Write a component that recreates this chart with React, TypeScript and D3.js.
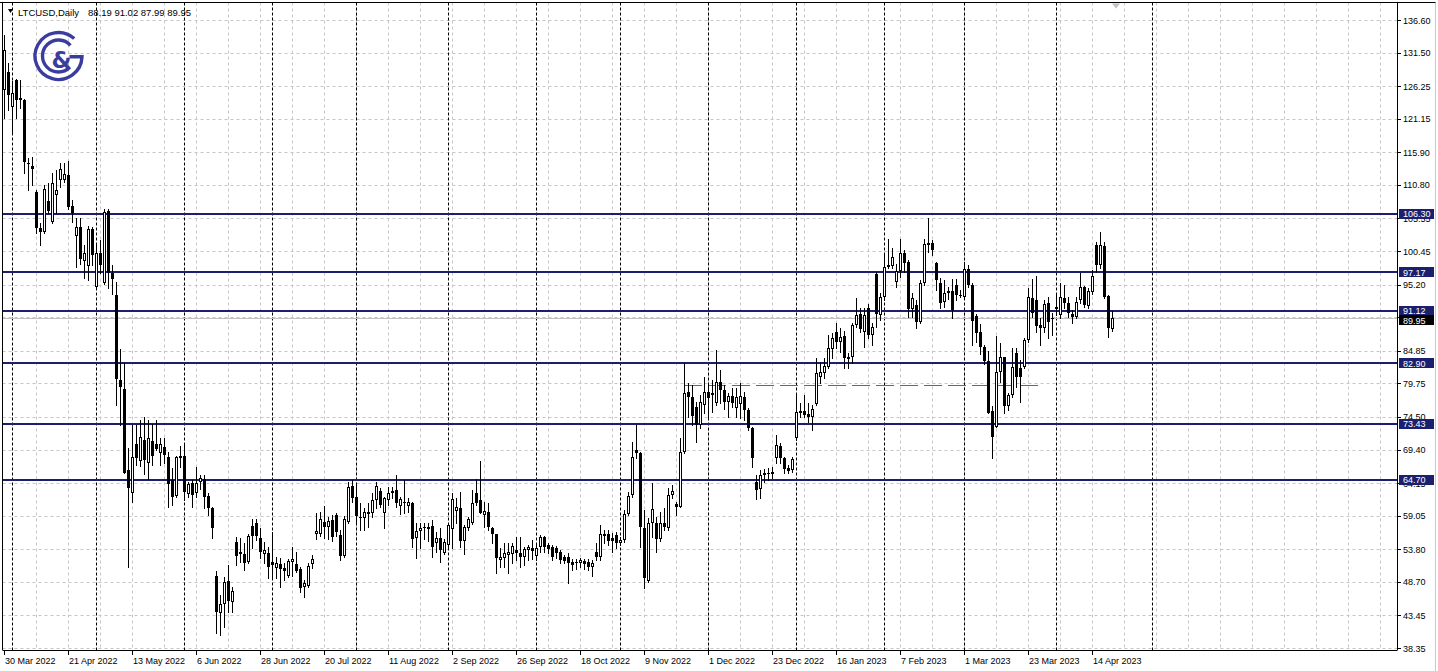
import React from "react";
import * as d3 from "d3";

const W = 1438;
const H = 671;

// OHLC per daily bar (weekday bars, 30 Mar 2022 .. 21 Apr 2023)
const opens = [
125.65,128.52,122.94,127.21,124.1,124.08,114.2,113.76,109.74,104.0,103.5,108.3,105.05,109.2,111.57,111.57,112.35,107.5,102.86,104.16,
98.95,98.17,103.85,94.78,100.1,95.4,106.7,97.07,93.58,80.28,78.82,66.2,62.65,70.27,67.66,70.9,67.24,70.73,70.27,68.8,
69.85,68.18,64.63,62.18,68.02,68.4,62.44,64.1,62.55,64.37,64.79,62.13,60.2,49.67,43.88,45.23,48.88,45.6,54.93,53.0,
53.06,51.86,57.43,57.85,55.5,53.06,53.16,51.8,50.82,51.5,50.92,49.67,51.75,51.44,50.66,47.84,48.05,51.49,56.13,56.18,
58.12,57.33,58.37,59.16,56.03,52.79,58.12,63.7,62.03,58.9,58.64,59.3,59.52,61.5,62.96,59.42,61.5,62.65,63.07,60.62,
61.24,60.62,60.98,55.61,56.7,57.33,56.91,57.43,54.72,55.5,53.26,54.46,56.91,59.84,60.2,55.14,57.07,57.95,62.55,61.5,
59.16,59.68,57.07,56.18,52.12,52.38,52.9,53.06,53.68,53.16,52.64,53.68,53.94,52.74,54.2,55.66,54.46,54.09,53.94,53.42,
52.64,52.64,51.86,51.86,51.6,52.0,51.86,51.07,53.42,52.53,56.18,56.18,55.5,56.03,54.72,55.25,59.31,62.29,69.33,68.9,
57.07,48.88,57.95,57.95,55.35,57.95,57.07,62.29,60.88,60.46,69.07,78.45,77.67,76.11,73.24,76.4,78.45,77.93,76.63,80.02,
78.71,76.89,77.77,75.85,76.5,77.56,75.58,72.72,64.37,63.18,65.41,65.5,65.57,68.02,69.95,68.02,66.46,66.2,71.15,75.06,
75.48,74.96,74.54,76.52,80.8,81.42,82.36,85.07,87.84,86.28,87.16,83.51,83.82,88.88,90.6,87.84,91.49,87.32,96.86,90.45,
93.21,97.91,98.11,95.66,97.39,100.2,98.79,91.34,92.01,89.41,95.4,101.66,101.66,98.64,95.5,92.53,93.84,94.26,95.14,93.5,
93.32,97.59,95.14,90.29,87.84,85.49,83.3,75.48,72.98,81.58,83.82,76.21,77.93,84.45,82.1,82.26,86.54,93.05,92.8,88.88,
88.36,92.27,89.93,91.75,90.45,93.05,92.38,90.6,90.19,92.8,94.78,91.86,94.1,101.4,98.27,101.24,93.42,88.19
];
const highs = [
134.25,129.8,127.0,127.3,127.2,124.3,114.96,115.2,110.0,104.8,110.8,111.15,112.7,113.1,114.2,114.2,114.5,108.5,105.57,105.57,
101.4,104.4,104.27,101.4,102.2,106.98,107.1,98.27,95.6,85.08,82.9,69.6,73.24,73.24,74.02,74.44,74.02,73.39,74.02,71.15,
71.15,69.07,66.46,68.4,69.95,70.47,64.37,64.6,66.7,65.4,65.41,62.55,60.46,50.45,46.64,49.5,51.33,47.95,55.66,55.5,
54.72,56.2,58.6,58.6,57.07,54.98,54.2,56.5,52.6,52.38,51.6,52.22,54.2,53.42,51.07,48.99,51.6,52.9,59.52,59.68,
60.56,58.9,59.16,59.42,56.81,59.0,64.37,64.63,64.11,61.08,60.2,60.98,62.55,64.37,63.33,62.03,63.59,63.59,65.41,62.03,
64.63,61.76,61.24,57.85,57.85,57.85,57.85,58.37,56.55,57.07,55.35,57.85,62.65,61.86,62.8,57.59,58.9,63.07,64.73,67.6,
61.24,60.98,57.33,56.2,53.94,54.72,54.72,54.72,55.77,55.77,54.2,54.46,55.25,54.72,56.03,55.87,54.72,54.46,54.3,53.68,
52.9,53.26,52.22,52.22,52.38,52.22,52.22,52.12,54.72,57.59,56.81,56.81,56.29,56.55,55.77,59.94,62.8,70.63,73.24,69.07,
59.94,58.64,64.11,58.9,59.68,60.2,63.33,63.85,61.24,71.15,82.99,79.75,79.49,76.89,77.93,80.8,79.75,80.28,84.97,81.84,
79.49,78.19,78.97,78.97,79.86,78.45,75.84,72.98,65.41,66.2,66.3,66.5,66.6,71.67,70.37,68.28,66.98,68.28,77.93,76.63,
77.93,76.63,76.37,83.67,82.88,83.67,87.31,87.58,89.25,88.36,87.99,84.45,89.14,93.05,91.49,91.49,92.17,89.14,97.23,93.84,
99.84,102.28,100.88,98.43,102.28,100.62,99.05,93.84,92.8,95.92,102.28,105.57,102.18,98.79,96.18,95.92,94.9,96.03,96.03,94.36,
98.79,98.27,95.4,90.6,89.04,85.75,84.87,76.21,87.2,86.02,83.93,78.19,85.23,85.23,83.41,86.8,94.62,96.03,96.55,89.93,
92.8,93.21,90.71,93.84,95.4,95.14,93.32,91.23,93.32,97.07,94.98,94.62,97.49,101.92,103.49,101.92,93.58,91.02
];
const lows = [
121.22,122.5,119.1,121.2,122.8,112.6,110.0,110.8,103.2,101.4,103.3,106.35,104.9,106.35,110.5,111.3,107.1,105.05,98.0,98.5,
96.2,95.9,98.27,94.62,96.97,95.3,94.6,93.8,76.4,73.24,65.7,50.97,61.24,66.98,66.82,65.57,64.79,66.98,69.3,66.98,
67.24,60.46,60.72,62.0,66.7,61.5,62.0,60.46,62.0,63.2,60.2,59.16,55.5,40.64,40.38,41.69,44.03,44.03,51.33,51.86,
50.55,51.6,53.94,55.25,52.38,51.6,49.25,49.3,49.25,47.95,48.99,49.5,49.6,50.3,47.16,46.38,47.95,50.8,55.35,55.92,
55.5,55.35,55.14,55.8,52.12,52.64,57.85,61.24,58.0,56.81,56.81,57.33,58.9,60.2,60.46,57.07,60.72,61.76,60.46,59.31,
59.42,59.68,54.2,52.38,53.94,55.35,55.14,52.53,53.42,51.86,53.06,54.2,53.94,57.85,54.2,53.06,56.81,57.75,60.72,59.42,
57.33,56.81,54.72,50.03,50.97,50.97,50.14,51.6,52.12,51.07,51.33,52.12,52.22,52.12,53.42,53.42,53.16,52.12,52.38,51.6,
51.6,48.47,50.55,50.66,50.97,50.66,50.55,49.62,52.12,52.12,54.72,54.46,53.42,53.94,54.46,54.98,59.16,62.03,68.02,54.2,
47.69,48.73,55.77,53.42,55.14,56.81,56.81,61.76,59.16,60.36,68.9,74.44,73.24,70.63,72.72,75.06,74.54,75.32,76.37,76.63,
75.69,74.54,76.11,74.54,74.28,74.02,72.46,66.72,61.6,61.76,64.37,64.6,64.9,67.24,67.24,65.67,65.67,65.94,70.89,74.44,
74.44,73.76,72.46,76.37,79.75,80.54,82.1,83.67,85.23,84.71,82.1,82.1,82.88,88.62,87.84,85.49,86.8,85.75,88.62,89.67,
92.8,97.75,97.75,94.78,96.45,97.23,90.19,90.08,88.36,89.25,95.14,100.36,99.84,94.36,91.49,91.75,92.9,89.93,92.8,93.3,
93.21,94.78,85.75,86.28,84.35,82.78,75.06,68.02,72.88,80.02,75.06,75.58,77.67,79.23,76.89,82.1,86.28,90.19,87.84,85.75,
87.84,86.8,87.32,90.45,89.93,91.49,90.08,89.14,89.93,92.27,91.65,91.49,93.73,97.23,97.75,93.05,87.06,87.99
];
const closes = [
131.91,124.87,125.13,124.08,124.45,114.44,114.1,113.24,104.0,103.4,110.1,106.77,111.05,110.0,113.24,112.5,107.3,106.35,104.16,99.16,
100.1,103.85,99.84,100.1,98.27,106.5,96.97,96.03,80.4,79.13,65.78,63.33,68.28,68.02,71.31,67.76,71.15,68.44,69.48,70.27,
68.54,64.0,62.0,68.28,68.4,62.8,64.0,62.28,64.1,65.0,61.92,60.2,57.07,44.03,45.23,48.73,45.76,47.27,52.79,53.42,
51.6,55.87,55.87,55.92,53.42,53.68,51.07,51.4,51.6,50.7,50.45,52.0,52.2,50.45,47.79,48.57,51.18,52.22,56.66,58.53,
57.33,58.27,55.77,56.44,52.79,58.53,63.59,61.76,59.05,58.64,59.57,59.68,61.5,63.7,60.72,61.76,62.65,62.86,60.98,61.6,
60.98,61.24,55.35,56.7,57.07,57.07,57.23,54.09,55.5,53.68,54.98,57.59,61.6,60.36,55.14,57.23,58.48,60.98,61.08,59.52,
59.78,57.33,56.18,52.38,52.53,53.26,53.42,54.3,53.16,52.64,53.78,54.2,53.58,53.94,55.77,54.09,53.78,52.53,53.16,52.12,
52.0,51.6,51.33,51.6,52.12,51.49,50.97,51.7,52.53,56.18,55.87,55.14,55.14,54.72,55.25,59.31,62.13,68.28,68.8,57.23,
49.25,57.95,60.04,55.35,57.95,57.23,62.29,62.91,60.46,69.07,78.19,77.67,74.65,73.24,76.89,78.45,77.41,78.19,80.02,78.71,
76.89,77.77,76.63,77.67,77.77,75.58,72.72,68.02,63.07,65.41,65.67,65.7,65.94,70.11,68.02,66.3,66.09,67.87,75.32,75.48,
74.8,74.54,75.69,81.32,81.58,82.46,85.23,86.8,86.28,87.06,83.67,83.93,88.88,90.45,88.2,90.45,87.32,88.62,90.6,93.32,
98.01,98.27,99.47,97.39,100.2,98.64,91.34,93.05,89.41,95.4,101.56,101.4,100.62,95.92,92.38,93.84,94.26,91.23,93.58,93.58,
97.59,95.14,89.56,87.68,85.49,83.3,75.17,71.41,81.58,83.82,76.21,77.93,82.36,80.8,80.7,86.54,93.32,90.71,88.73,88.36,
92.17,89.41,89.9,91.34,93.21,92.38,90.71,90.08,92.53,94.78,92.01,94.26,96.55,98.27,101.4,93.32,88.36,89.95
];

const priceTicks = [136.60, 131.50, 126.25, 121.15, 115.90, 110.80, 105.55, 100.45, 95.20, 90.10, 84.85, 79.75, 74.50, 69.40, 64.15, 59.05, 53.80, 48.70, 43.45, 38.35];
const dateLabels = ["30 Mar 2022", "21 Apr 2022", "13 May 2022", "6 Jun 2022", "28 Jun 2022", "20 Jul 2022", "11 Aug 2022", "2 Sep 2022", "26 Sep 2022", "18 Oct 2022", "9 Nov 2022", "1 Dec 2022", "23 Dec 2022", "16 Jan 2023", "7 Feb 2023", "1 Mar 2023", "23 Mar 2023", "14 Apr 2023"];
const barsPerLabel = 16;
const monthSeparators = [2, 23, 45, 67, 88, 111, 133, 154, 176, 198, 220, 240, 263, 287];
const levels = [106.30, 97.17, 91.12, 82.90, 73.43, 64.70];
const trendLevel = 79.45;
const trendStartBar = 170;
const trendEndBar = 260;
const lastPrice = 89.95;
const symbolTitle = "LTCUSD,Daily";
const headerOHLC = "88.19 91.02 87.99 89.95";

const FONT = "'Liberation Sans', Arial, sans-serif";
const NAVY = "#1b1f6d";

export default function App() {
  const left = 2.5, right = 1397, top = 2.5, bottom = 650;
  const x = d3.scaleLinear().domain([0, 348]).range([4, 1396]);
  const y = d3.scaleLinear().domain([38.35, 136.6]).range([648, 20]);
  const n = closes.length;
  const gridBars = d3.range(8, 348, 8);
  const fmt = d3.format(".2f");
  const lastY = y(lastPrice);
  // tick labels that sit entirely under the last-price box are not visible in the original
  const visibleTicks = priceTicks.filter((p) => Math.abs(y(p) - lastY) > 3);

  const candles = d3.range(n).map((i) => {
    const px = Math.round(x(i));
    const o = opens[i], c = closes[i];
    const bull = c >= o;
    const yt = Math.round(y(Math.max(o, c)));
    const yb = Math.round(y(Math.min(o, c)));
    const hgt = Math.max(yb - yt, 1);
    return (
      <g key={i}>
        <line x1={px + 0.5} x2={px + 0.5} y1={Math.round(y(highs[i]))} y2={Math.round(y(lows[i])) + 1} stroke="#000" strokeWidth={1} />
        {bull ? (
          <rect x={px - 0.5} y={yt + 0.5} width={2} height={Math.max(hgt - 1, 0.01)} fill="#fff" stroke="#000" strokeWidth={1} />
        ) : (
          <rect x={px - 1} y={yt} width={3} height={hgt} fill="#000" />
        )}
      </g>
    );
  });

  const logoCx = 58.5, logoCy = 56;
  const arcPt = (r: number, deg: number) => [logoCx + r * Math.cos((deg * Math.PI) / 180), logoCy + r * Math.sin((deg * Math.PI) / 180)];
  const [gx1, gy1] = arcPt(23.5, -48);
  const [gx2, gy2] = arcPt(23.5, 2);
  const [cx1, cy1] = arcPt(16, -42);
  const [cx2, cy2] = arcPt(16, 45);
  const gPath = `M${gx1},${gy1} A23.5,23.5 0 1 0 ${gx2},${gy2} L${logoCx + 11},${gy2}`;
  const cPath = `M${cx1},${cy1} A16,16 0 1 0 ${cx2},${cy2}`;

  return (
    <svg width={W} height={H} style={{ position: "absolute", left: 0, top: 0, background: "#fff" }} fontFamily={FONT}>
      <rect x={0} y={0} width={W} height={H} fill="#fff" />
      {/* horizontal grid */}
      {priceTicks.map((p) => (
        <line key={"hg" + p} x1={left} x2={right} y1={Math.round(y(p)) + 0.5} y2={Math.round(y(p)) + 0.5} stroke="#c6c6c6" strokeDasharray="3,3" />
      ))}
      {/* vertical grid */}
      {gridBars.map((b) => (
        <line key={"vg" + b} x1={Math.round(x(b)) + 0.5} x2={Math.round(x(b)) + 0.5} y1={top} y2={bottom} stroke="#c6c6c6" strokeDasharray="3,3" />
      ))}
      {/* month separators */}
      {monthSeparators.map((b) => (
        <line key={"ms" + b} x1={Math.round(x(b)) + 0.5} x2={Math.round(x(b)) + 0.5} y1={top} y2={bottom} stroke="#000" strokeDasharray="3,2" />
      ))}
      {/* bid line */}
      <line x1={left} x2={right} y1={Math.round(lastY) + 0.5} y2={Math.round(lastY) + 0.5} stroke="#c0c0c0" />
      {/* green trend level */}
      <line x1={x(trendStartBar)} x2={x(trendEndBar)} y1={Math.round(y(trendLevel)) + 0.5} y2={Math.round(y(trendLevel)) + 0.5} stroke="#3d8c14" strokeDasharray="18,6" />
      {/* levels */}
      {levels.map((p) => (
        <line key={"lv" + p} x1={left} x2={right} y1={Math.round(y(p))} y2={Math.round(y(p))} stroke={NAVY} strokeWidth={2} />
      ))}
      {/* candles */}
      <g>{candles}</g>

      {/* logo */}
      <g fill="none" stroke="#3a3d9e" strokeWidth={3.4} strokeLinecap="butt">
        <path d={gPath} />
        <path d={cPath} />
      </g>
      <text x={logoCx + 3} y={logoCy + 12} textAnchor="middle" fontSize={23} fontWeight="bold" fill="#3a3d9e" fontFamily="'DejaVu Sans', sans-serif">&amp;</text>

      {/* header */}
      <polygon points="8,9 13,9 10.5,13" fill="#000" />
      <text x={18} y={16} fontSize={9.5} fill="#000">{symbolTitle}</text>
      <text x={88} y={16} fontSize={9.5} fill="#000">{headerOHLC}</text>

      {/* frame */}
      <line x1={0} x2={1436} y1={top} y2={top} stroke="#000" />
      <line x1={left} x2={left} y1={top} y2={bottom} stroke="#000" />
      <line x1={right + 0.5} x2={right + 0.5} y1={top} y2={bottom} stroke="#000" />
      <line x1={left} x2={right + 0.5} y1={bottom + 0.5} y2={bottom + 0.5} stroke="#000" />
      <line x1={1435.5} x2={1435.5} y1={top} y2={H} stroke="#c8c8c8" />
      <polygon points={`${x(278) - 4},${top + 1} ${x(278) + 4},${top + 1} ${x(278)},${top + 6}`} fill="#c0c0c0" />

      {/* y axis */}
      {priceTicks.map((p) => (
        <line key={"ytk" + p} x1={right + 0.5} x2={right + 4} y1={Math.round(y(p)) + 0.5} y2={Math.round(y(p)) + 0.5} stroke="#000" />
      ))}
      {visibleTicks.map((p) => (
        <text key={"yt" + p} x={1403} y={y(p) + 3.5} fontSize={9} fill="#000">{fmt(p)}</text>
      ))}
      {levels.map((p) => (
        <g key={"ll" + p}>
          <rect x={1399} y={Math.round(y(p)) - 5} width={35} height={10} fill={NAVY} />
          <text x={1403} y={y(p) + 3.5} fontSize={9} fill="#fff">{fmt(p)}</text>
        </g>
      ))}
      <rect x={1399} y={Math.round(lastY) - 3} width={35} height={10} fill="#000" />
      <text x={1403} y={lastY + 5.5} fontSize={9} fill="#fff">{fmt(lastPrice)}</text>

      {/* x axis */}
      {dateLabels.map((lab, k) => {
        const px = Math.round(x(k * barsPerLabel));
        return (
          <g key={"xl" + k}>
            <line x1={px + 0.5} x2={px + 0.5} y1={bottom} y2={bottom + 5} stroke="#000" />
            <text x={px + 1} y={664} fontSize={9} fill="#000">{lab}</text>
          </g>
        );
      })}
    </svg>
  );
}
